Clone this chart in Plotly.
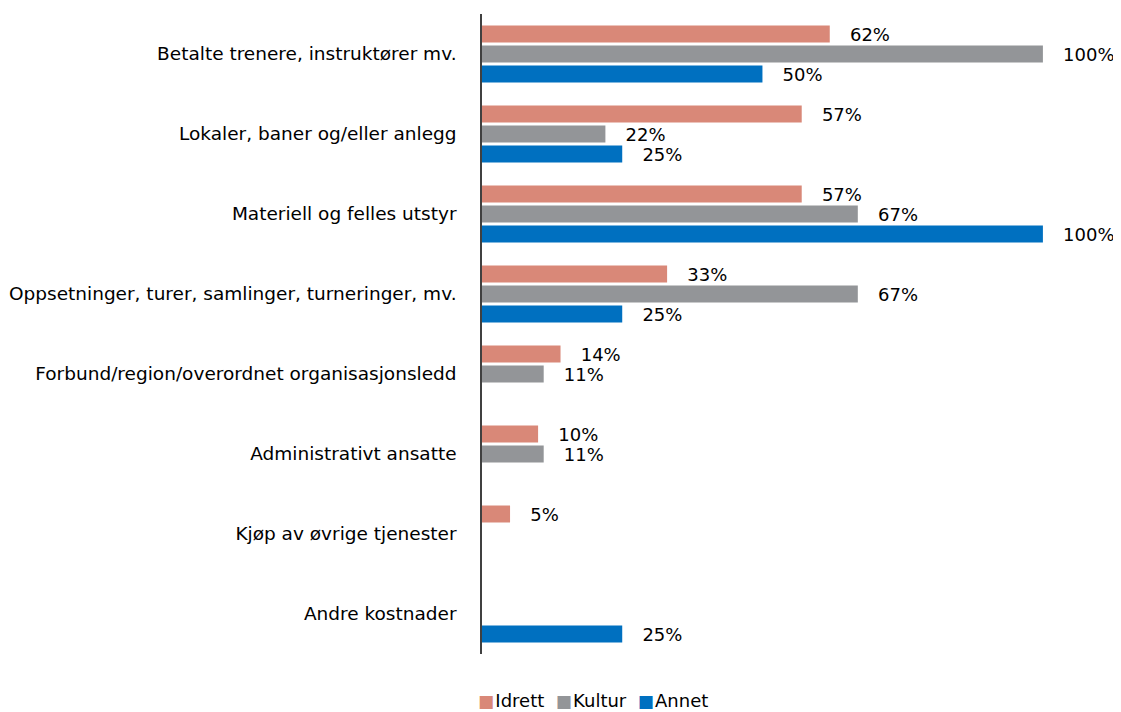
import plotly.graph_objects as go

categories = [
    "Betalte trenere, instruktører mv.",
    "Lokaler, baner og/eller anlegg",
    "Materiell og felles utstyr",
    "Oppsetninger, turer, samlinger, turneringer, mv.",
    "Forbund/region/overordnet organisasjonsledd",
    "Administrativt ansatte",
    "Kjøp av øvrige tjenester",
    "Andre kostnader",
]
idrett = [0.62, 0.57, 0.57, 0.33, 0.14, 0.10, 0.05, None]
kultur = [1.00, 0.22, 0.67, 0.67, 0.11, 0.11, None, None]
annet = [0.50, 0.25, 1.00, 0.25, None, None, None, 0.25]

series_names = ["Idrett", "Kultur", "Annet"]
series_values = [idrett, kultur, annet]
series_colors = ["#D98878", "#939598", "#0070C0"]

FONT = "DejaVu Sans"

fig = go.Figure()
for name, vals, color in zip(series_names, series_values, series_colors):
    fig.add_trace(go.Bar(
        name=name, y=categories, x=vals, orientation="h",
        marker=dict(color=color, line=dict(width=0)),
        texttemplate="\u00a0\u00a0\u00a0%{x:.0%}", textposition="outside",
        constraintext="none",
        textfont=dict(family=FONT, size=18, color="#000000"),
        cliponaxis=False, showlegend=False,
    ))

legend_text = "\u00a0\u00a0".join(
    f"<span style='color:{c};font-size:17px'>\u25A0</span><span style='font-size:4px'>\u00a0</span>{n}"
    for n, c in zip(series_names, series_colors)
)
fig.add_annotation(
    text=legend_text, xref="paper", yref="paper", x=0.18, y=-0.072,
    xanchor="center", yanchor="middle", showarrow=False,
    font=dict(family=FONT, size=18, color="#000000"),
)

fig.update_layout(
    width=1113, height=704,
    margin=dict(l=474, r=22, t=6, b=58),
    barmode="group", bargap=0.25, bargroupgap=0.15,
    plot_bgcolor="white", paper_bgcolor="white",
    font=dict(family=FONT, size=18, color="#000000"),
    xaxis=dict(range=[0, 1.1], showgrid=False, showticklabels=False, zeroline=False, showline=False),
    yaxis=dict(autorange="reversed", showgrid=False, showline=True, linecolor="#404040", linewidth=1.5,
               ticks="", ticklabelstandoff=20, automargin=False,
               tickfont=dict(family=FONT, size=18.5, color="#000000")),
    showlegend=False,
)

fig.write_html("out.html")
